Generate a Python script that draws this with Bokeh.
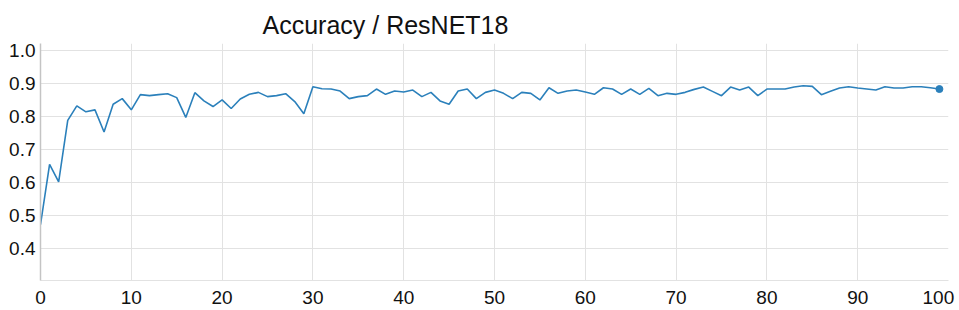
from bokeh.plotting import figure
from bokeh.models import FixedTicker, Range1d
from bokeh.embed import file_html
from bokeh.resources import INLINE

title_text = "Accuracy / ResNET18"
epochs = list(range(100))
accuracy = [0.472, 0.655, 0.602, 0.788, 0.832, 0.814, 0.820, 0.753, 0.837, 0.854,
            0.820, 0.866, 0.863, 0.866, 0.869, 0.857, 0.797, 0.872, 0.847, 0.830,
            0.850, 0.824, 0.853, 0.867, 0.873, 0.860, 0.863, 0.869, 0.845, 0.808,
            0.890, 0.884, 0.883, 0.877, 0.854, 0.860, 0.863, 0.883, 0.867, 0.877,
            0.874, 0.880, 0.860, 0.873, 0.847, 0.837, 0.877, 0.883, 0.854, 0.873,
            0.880, 0.870, 0.854, 0.873, 0.870, 0.850, 0.887, 0.870, 0.877, 0.880,
            0.874, 0.867, 0.887, 0.883, 0.867, 0.883, 0.867, 0.885, 0.863, 0.870,
            0.867, 0.873, 0.882, 0.889, 0.876, 0.863, 0.889, 0.880, 0.889, 0.863,
            0.883, 0.883, 0.883, 0.889, 0.893, 0.891, 0.866, 0.876, 0.886, 0.890,
            0.886, 0.883, 0.880, 0.890, 0.886, 0.886, 0.890, 0.890, 0.887, 0.883]
x_ticks = [0, 10, 20, 30, 40, 50, 60, 70, 80, 90, 100]
y_ticks = [0.4, 0.5, 0.6, 0.7, 0.8, 0.9, 1.0]

FONT = "Liberation Sans"
LINE = "#2b80bb"

p = figure(width=959, height=310, output_backend="svg", toolbar_location=None,
           x_range=Range1d(0, 100), y_range=Range1d(0.303, 1.021),
           min_border_left=40, min_border_right=11, min_border_top=43,
           min_border_bottom=0)
p.outline_line_color = None
p.background_fill_color = "white"
p.border_fill_color = "white"

p.title.text = title_text
p.title.text_font = FONT
p.title.text_font_size = "25px"
p.title.text_font_style = "normal"
p.title.text_color = "#111111"
p.title.align = "left"
p.title.vertical_align = "top"
p.title.text_line_height = 1.3
p.title.offset = 222
p.title.standoff = 6

p.xaxis.ticker = FixedTicker(ticks=x_ticks)
p.yaxis.ticker = FixedTicker(ticks=y_ticks)
p.xaxis.major_label_overrides = {100: "100\u00a0"}
p.yaxis.major_label_overrides = {t: f"{t:.1f}" for t in y_ticks}
for ax in (p.xaxis[0], p.yaxis[0]):
    ax.major_tick_out = 0
    ax.major_tick_in = 0
    ax.minor_tick_out = 0
    ax.minor_tick_in = 0
    ax.major_label_text_font = FONT
    ax.major_label_text_font_size = "19px"
    ax.major_label_text_color = "#111111"
p.xaxis.major_label_standoff = 6
p.yaxis.major_label_standoff = 5
p.yaxis.axis_line_color = "#c4c4c4"
p.yaxis.axis_line_width = 1.5
p.xaxis.axis_line_color = "#e2e2e2"

p.xgrid.grid_line_color = "#e2e2e2"
p.ygrid.grid_line_color = "#e2e2e2"
p.xgrid.ticker = FixedTicker(ticks=x_ticks)
p.ygrid.ticker = FixedTicker(ticks=y_ticks)

p.line(epochs, accuracy, line_color=LINE, line_width=1.6)
p.scatter([epochs[-1]], [accuracy[-1]], size=7, fill_color=LINE, line_color=LINE)

open("out.html", "w").write(file_html(p, INLINE))
